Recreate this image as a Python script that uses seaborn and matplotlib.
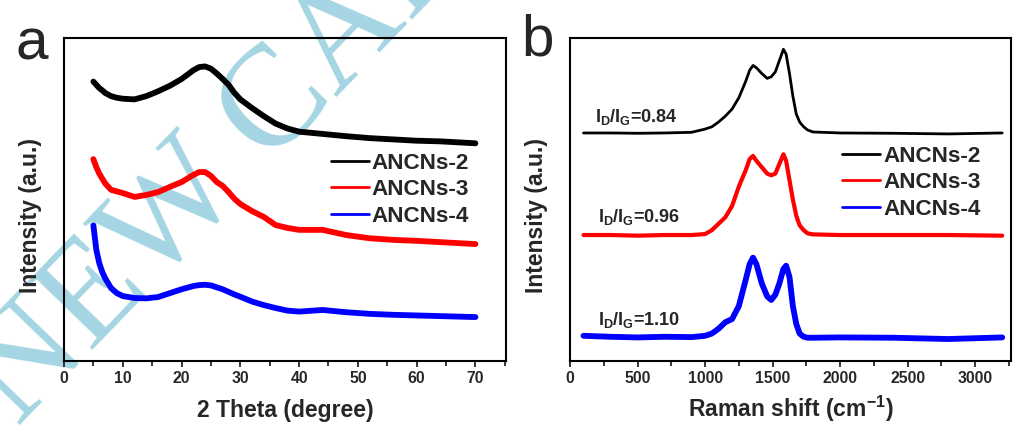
import numpy as np
import pandas as pd
import matplotlib
matplotlib.use("Agg")
import matplotlib.pyplot as plt
import seaborn as sns
from matplotlib.lines import Line2D

# ---------------- data ----------------
series_names = ["ANCNs-2", "ANCNs-3", "ANCNs-4"]
series_colors = ["#000000", "#ff0000", "#0000ff"]

# (a) XRD
theta = [5, 5.5, 6, 6.5, 7, 7.5, 8, 9, 10, 12, 14, 16, 18, 20, 22, 23, 24, 25, 26,
         27, 28, 29, 30, 32, 34, 36, 38, 40, 44, 48, 52, 56, 60, 64, 70]
xrd_2 = [86.5, 85.5, 84.5, 83.8, 83, 82.5, 82, 81.5, 81.2, 81, 82, 83.5, 85.2, 87.3, 90,
         91, 91.2, 90.5, 89, 87.3, 85.5, 83, 81, 78.3, 75.8, 73.5, 72, 71, 70.3, 69.6,
         69, 68.6, 68.2, 68, 67.4]
xrd_3 = [62.5, 60, 58, 56.5, 55, 54, 53, 52.5, 52, 50.8, 51.4, 52.3, 53.9, 55.4, 57.6,
         58.5, 58.5, 57.3, 55.4, 54.2, 52.3, 50.2, 48.6, 46.4, 44.6, 42.1, 41.2, 40.6,
         40.6, 39, 38, 37.5, 37.2, 36.8, 36.2]
xrd_4 = [42, 34.4, 30.3, 27.6, 25.6, 24.1, 22.6, 21, 20.1, 19.5, 19.4, 19.8, 21, 22.2,
         23.2, 23.5, 23.6, 23.4, 22.8, 22.2, 21.4, 20.6, 19.9, 18.4, 17.3, 16.4, 15.6,
         15.3, 15.8, 15.1, 14.6, 14.3, 14.1, 13.9, 13.6]

# (b) Raman
shift = [100, 300, 500, 700, 900, 1000, 1050, 1100, 1150, 1200, 1250, 1300, 1330, 1355,
         1380, 1420, 1460, 1490, 1520, 1550, 1580, 1600, 1625, 1650, 1675, 1700, 1730,
         1760, 1800, 2000, 2400, 2800, 3200]
raman_2 = [70.6, 70.6, 70.5, 70.6, 70.8, 71.8, 72.5, 74, 75.8, 78, 81.5, 86.5, 90, 91.5,
           90.8, 89, 87.5, 88, 89.5, 93, 96.5, 95, 89, 82, 76.5, 74, 72.5, 71.5, 70.9,
           70.6, 70.5, 70.3, 70.6]
raman_3 = [39, 39, 38.8, 39, 39, 39.3, 40.5, 42.5, 44.5, 48, 54, 59, 62.5, 63.5, 62, 60,
           58, 57.5, 58, 61, 64, 62, 56, 50, 45, 42, 40.5, 39.5, 39.2, 39, 39, 39, 38.8]
raman_4 = [7.8, 7.5, 7.3, 7.5, 7.4, 7.8, 8.5, 10, 12, 13, 17, 25, 30, 32, 30, 24, 20,
           18.9, 20.5, 24, 28.5, 29.5, 26, 17, 11.5, 8.5, 7.5, 7.2, 7.2, 7.3, 7.2, 6.8, 7.3]

ratio_labels = ["0.84", "0.96", "1.10"]
ratio_x = [185, 205, 210]
ratio_y = [75.5, 44.5, 12.8]

xrd_ticks = [0, 10, 20, 30, 40, 50, 60, 70]
raman_ticks = [0, 500, 1000, 1500, 2000, 2500, 3000]

# ---------------- style ----------------
sns.set_theme(style="white")
plt.rcParams["font.family"] = ["Liberation Sans", "DejaVu Sans"]
plt.rcParams["font.weight"] = "bold"
plt.rcParams["mathtext.fontset"] = "custom"
plt.rcParams["mathtext.rm"] = "Liberation Sans:bold"
plt.rcParams["mathtext.bf"] = "Liberation Sans:bold"
plt.rcParams["mathtext.it"] = "Liberation Sans:bold"
plt.rcParams["mathtext.default"] = "rm"

fig = plt.figure(figsize=(10.14, 4.26), dpi=100)
ax_a = fig.add_axes([64 / 1014, 1 - 361 / 426, (506 - 64) / 1014, (361 - 38) / 426])
ax_b = fig.add_axes([570 / 1014, 1 - 361 / 426, (1011 - 570) / 1014, (361 - 38) / 426])

df_a = pd.DataFrame({
    "x": theta * 3,
    "y": xrd_2 + xrd_3 + xrd_4,
    "s": [series_names[0]] * len(theta) + [series_names[1]] * len(theta) + [series_names[2]] * len(theta),
})
df_b = pd.DataFrame({
    "x": shift * 3,
    "y": raman_2 + raman_3 + raman_4,
    "s": [series_names[0]] * len(shift) + [series_names[1]] * len(shift) + [series_names[2]] * len(shift),
})
pal = dict(zip(series_names, series_colors))

sns.lineplot(data=df_a, x="x", y="y", hue="s", palette=pal, ax=ax_a, legend=False,
             linewidth=4.2, sort=False, estimator=None)
sns.lineplot(data=df_b, x="x", y="y", hue="s", palette=pal, ax=ax_b, legend=False,
             linewidth=2.6, sort=False, estimator=None)
for ln, lw in zip(ax_b.get_lines(), [2.0, 3.0, 4.2]):
    ln.set_linewidth(lw)

for ax, xlim, ticks, minor in [(ax_a, (0, 75.2), xrd_ticks, 5),
                               (ax_b, (0, 3265), raman_ticks, 250)]:
    ax.set_facecolor("none")
    ax.set_xlim(*xlim)
    ax.set_ylim(0, 100)
    ax.set_xticks(ticks)
    ax.set_xticks(np.arange(minor, xlim[1], 2 * minor), minor=True)
    ax.set_xticklabels([str(t) for t in ticks], fontsize=11.3, fontweight="bold")
    ax.set_yticks([])
    ax.tick_params(axis="x", which="major", direction="out", length=4.5, width=1.3,
                   pad=3, bottom=True, top=False)
    ax.tick_params(axis="x", which="minor", direction="out", length=3.5, width=1.3,
                   bottom=True, top=False)
    for sp in ax.spines.values():
        sp.set_visible(True)
        sp.set_color("black")
        sp.set_linewidth(1.5)
    ax.set_ylabel("Intensity (a.u.)", fontsize=16.5, fontweight="bold")
    ax.yaxis.set_label_coords(-0.049, 0.45)

ax_a.set_xlabel("2 Theta (degree)", fontsize=16.5, fontweight="bold")
ax_b.set_xlabel(r"Raman shift (cm$^{-1}$)", fontsize=16.5, fontweight="bold")
ax_a.xaxis.set_label_coords(0.5, -0.118)
ax_b.xaxis.set_label_coords(0.5, -0.1)

handles = [Line2D([], [], color=c, lw=2.0) for c in series_colors]
for ax, anchor in [(ax_a, (0.603, 0.53)), (ax_b, (0.617, 0.552))]:
    leg = ax.legend(handles, series_names, loc="center left", bbox_to_anchor=anchor,
                    frameon=False, prop={"weight": "bold", "size": 16.2},
                    handlelength=1.7, handletextpad=0.12, labelspacing=0.24,
                    borderpad=0, borderaxespad=0)

for lab, xx, yy in zip(ratio_labels, ratio_x, ratio_y):
    ax_b.text(xx, yy, r"I$_{D}$/I$_{G}$=" + lab, fontsize=13, fontweight="bold",
              ha="left", va="center")

fig.text(15 / 1014, 1 - 44 / 426, "a", fontsize=42, fontweight="normal", va="center", ha="left")
fig.text(521 / 1014, 1 - 40 / 426, "b", fontsize=42, fontweight="normal", va="center", ha="left")

# watermark
fig.text(18 / 1014, 1 - 428 / 426, "NEW CARBON", fontsize=104,
         family=["Liberation Serif", "DejaVu Serif"], fontweight="normal",
         color="#a5d5e3", rotation=46, rotation_mode="anchor",
         ha="left", va="baseline", zorder=-5)

fig.savefig("out.png", dpi=100)
